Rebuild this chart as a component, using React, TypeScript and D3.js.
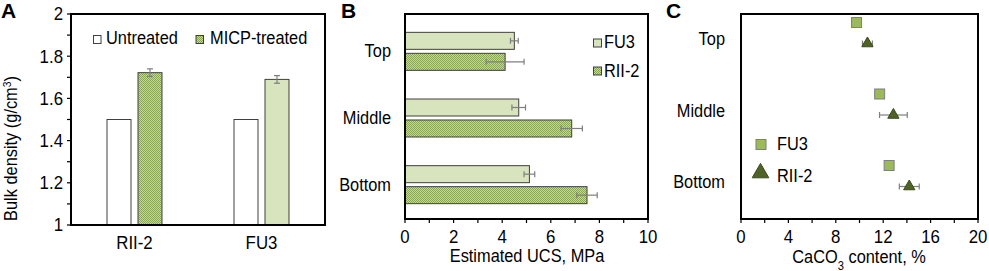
import React from "react";
import * as d3 from "d3";

// ---------- Panel A data ----------
const aCategories = ["RII-2", "FU3"];
const aSeries = ["Untreated", "MICP-treated"];
const aUntreated = [1.5, 1.5];
const aTreated = [1.722, 1.69];
const aTreatedErr = [0.018, 0.018];
const aYTicks = [1, 1.2, 1.4, 1.6, 1.8, 2];

// ---------- Panel B data ----------
const bCategories = ["Top", "Middle", "Bottom"];
const bSeries = ["FU3", "RII-2"];
const bFU3 = [4.5, 4.68, 5.12];
const bFU3Err = [0.16, 0.28, 0.22];
const bRII2 = [4.12, 6.86, 7.49];
const bRII2Err = [0.78, 0.44, 0.42];
const bXTicks = [0, 2, 4, 6, 8, 10];

// ---------- Panel C data ----------
const cCategories = ["Top", "Middle", "Bottom"];
const cFU3 = [9.75, 11.7, 12.5];
const cRII2 = [10.67, 12.86, 14.2];
const cRII2Err = [0.42, 1.17, 0.84];
const cXTicks = [0, 4, 8, 12, 16, 20];

const FONT = "'Liberation Sans', Arial, sans-serif";
const FU3_FILL = "#d7e4bd";
const BORDER = "#404040";
const ERR = "#7f7f7f";
const SQ_FILL = "#9bbb59";
const TRI_FILL = "#4f6228";
const LBL = 17.5; // label font size
const TCK = 18; // tick font size
const SX = 0.935; // horizontal squeeze seen in the reference

type TProps = {
  x: number; y: number; size?: number; anchor?: "start" | "middle" | "end";
  dy?: string; rotate?: number; sx?: number; bold?: boolean; children: React.ReactNode;
};
function T({ x, y, size = LBL, anchor = "start", dy, rotate = 0, sx = SX, bold, children }: TProps) {
  return (
    <text
      transform={`translate(${x},${y}) rotate(${rotate}) scale(${sx},1)`}
      textAnchor={anchor}
      dy={dy}
      fontFamily={FONT}
      fontSize={size}
      fontWeight={bold ? "bold" : "normal"}
      fill="#000"
    >
      {children}
    </text>
  );
}

function PanelA() {
  const left = 71, right = 325, top = 14, bottom = 225;
  const x = d3.scaleBand<string>().domain(aCategories).range([left, right]).paddingInner(0.567).paddingOuter(0.2835);
  const xs = d3.scaleBand<string>().domain(aSeries).range([0, x.bandwidth()]).paddingInner(0.226);
  const y = d3.scaleLinear().domain([1, 2]).range([bottom, top]);
  const minor = d3.range(1, 2.0001, 0.1);
  return (
    <g>
      <T x={1} y={18} size={21} bold sx={1}>A</T>
      {aCategories.map((c, i) => {
        const x0 = x(c)!;
        const ux = x0 + xs("Untreated")!;
        const tx = x0 + xs("MICP-treated")!;
        const bw = xs.bandwidth();
        const tfill = i === 0 ? "url(#checkA)" : FU3_FILL;
        const ex = tx + bw / 2;
        const eTop = y(aTreated[i] + aTreatedErr[i]);
        const eBot = y(aTreated[i] - aTreatedErr[i]);
        return (
          <g key={c}>
            <rect x={ux} y={y(aUntreated[i])} width={bw} height={y(1) - y(aUntreated[i])} fill="#fff" stroke={BORDER} strokeWidth={1} />
            <rect x={tx} y={y(aTreated[i])} width={bw} height={y(1) - y(aTreated[i])} fill={tfill} stroke={BORDER} strokeWidth={1} />
            <line x1={ex} x2={ex} y1={eTop} y2={eBot} stroke={ERR} strokeWidth={1.2} />
            <line x1={ex - 3} x2={ex + 3} y1={eTop} y2={eTop} stroke={ERR} strokeWidth={1.2} />
            <line x1={ex - 3} x2={ex + 3} y1={eBot} y2={eBot} stroke={ERR} strokeWidth={1.2} />
            <T x={x0 + x.bandwidth() / 2} y={249} size={TCK} anchor="middle">{c}</T>
          </g>
        );
      })}
      {minor.map((t, i) => (
        <line key={i} x1={left - 4} x2={left} y1={y(t)} y2={y(t)} stroke="#000" strokeWidth={1.2} />
      ))}
      {aYTicks.map((t) => (
        <T key={t} x={63} y={y(t)} dy="0.35em" size={TCK} anchor="end">{d3.format("~g")(t)}</T>
      ))}
      <rect x={left} y={top} width={right - left} height={bottom - top} fill="none" stroke="#000" strokeWidth={2} />
      <rect x={93.5} y={35.5} width={7.5} height={8} fill="#fff" stroke={BORDER} strokeWidth={1} />
      <T x={106} y={44}>Untreated</T>
      <rect x={196} y={35.5} width={7.5} height={8} fill="url(#checkA)" stroke={BORDER} strokeWidth={1} />
      <T x={210} y={44}>MICP-treated</T>
      <T x={17} y={148.5} rotate={-90} anchor="middle">
        Bulk density (g/cm<tspan baselineShift="super" fontSize={11}>3</tspan>)
      </T>
    </g>
  );
}

function PanelB() {
  const left = 405, right = 648, top = 14, bottom = 219;
  const x = d3.scaleLinear().domain([0, 10]).range([left, right]);
  const y = d3.scaleBand<string>().domain(bCategories).range([18, 218]).paddingInner(0.43).paddingOuter(0.215);
  const ys = d3.scaleBand<string>().domain(bSeries).range([0, y.bandwidth()]).paddingInner(0.19);
  const minor = d3.range(0, 10.001, 1);
  const bh = ys.bandwidth();
  const series = [
    { key: "FU3", vals: bFU3, err: bFU3Err, fill: FU3_FILL },
    { key: "RII-2", vals: bRII2, err: bRII2Err, fill: "url(#checkA)" },
  ];
  return (
    <g>
      <T x={341} y={18} size={21} bold sx={1}>B</T>
      {bCategories.map((c, i) => (
        <g key={c}>
          {series.map((s) => {
            const by = y(c)! + ys(s.key)!;
            const cy = by + bh / 2;
            const v = s.vals[i], e = s.err[i];
            return (
              <g key={s.key}>
                <rect x={x(0)} y={by} width={x(v) - x(0)} height={bh} fill={s.fill} stroke={BORDER} strokeWidth={1} />
                <line x1={x(v - e)} x2={x(v + e)} y1={cy} y2={cy} stroke={ERR} strokeWidth={1.2} />
                <line x1={x(v - e)} x2={x(v - e)} y1={cy - 3} y2={cy + 3} stroke={ERR} strokeWidth={1.2} />
                <line x1={x(v + e)} x2={x(v + e)} y1={cy - 3} y2={cy + 3} stroke={ERR} strokeWidth={1.2} />
              </g>
            );
          })}
          <T x={391} y={y(c)! + y.bandwidth() / 2} dy="0.35em" anchor="end">{c}</T>
        </g>
      ))}
      {minor.map((t, i) => (
        <line key={i} x1={x(t)} x2={x(t)} y1={bottom} y2={bottom + 4} stroke="#000" strokeWidth={1.2} />
      ))}
      {bXTicks.map((t) => (
        <T key={t} x={x(t)} y={243} size={TCK} anchor="middle">{t}</T>
      ))}
      <rect x={left} y={top} width={right - left} height={bottom - top} fill="none" stroke="#000" strokeWidth={2} />
      <rect x={593.5} y={39} width={8} height={8} fill={FU3_FILL} stroke={BORDER} strokeWidth={1} />
      <T x={604} y={48}>FU3</T>
      <rect x={593.5} y={67} width={8} height={8} fill="url(#checkA)" stroke={BORDER} strokeWidth={1} />
      <T x={604} y={77}>RII-2</T>
      <T x={(left + right) / 2 + 0.5} y={261.5} anchor="middle">Estimated UCS, MPa</T>
    </g>
  );
}

function PanelC() {
  const left = 741, right = 978, top = 14, bottom = 219;
  const x = d3.scaleLinear().domain([0, 20]).range([left, right]);
  const y = d3.scalePoint<string>().domain(cCategories).range([39, 182]);
  const fuOff = -16.5, riOff = 4.5;
  const minor = d3.range(0, 20.001, 2);
  const tri = d3.symbol(d3.symbolTriangle, 55)()!;
  const triBig = d3.symbol(d3.symbolTriangle, 120)()!;
  return (
    <g>
      <T x={666} y={18} size={21} bold sx={1}>C</T>
      {cCategories.map((c, i) => {
        const fy = y(c)! + fuOff;
        const ry = y(c)! + riOff;
        const e = cRII2Err[i];
        return (
          <g key={c}>
            <T x={725} y={y(c)!} dy="0.35em" anchor="end">{c}</T>
            <line x1={x(cRII2[i] - e)} x2={x(cRII2[i] + e)} y1={ry} y2={ry} stroke={ERR} strokeWidth={1.2} />
            <line x1={x(cRII2[i] - e)} x2={x(cRII2[i] - e)} y1={ry - 3} y2={ry + 3} stroke={ERR} strokeWidth={1.2} />
            <line x1={x(cRII2[i] + e)} x2={x(cRII2[i] + e)} y1={ry - 3} y2={ry + 3} stroke={ERR} strokeWidth={1.2} />
            <rect x={x(cFU3[i]) - 5} y={fy - 5} width={10} height={10} fill={SQ_FILL} stroke="#7f7f7f" strokeWidth={1} />
            <path d={tri} transform={`translate(${x(cRII2[i])},${ry})`} fill={TRI_FILL} stroke="#3a4a1c" strokeWidth={1} />
          </g>
        );
      })}
      {minor.map((t, i) => (
        <line key={i} x1={x(t)} x2={x(t)} y1={bottom} y2={bottom + 4} stroke="#000" strokeWidth={1.2} />
      ))}
      {cXTicks.map((t) => (
        <T key={t} x={x(t)} y={243} size={TCK} anchor="middle">{t}</T>
      ))}
      <rect x={left} y={top} width={right - left} height={bottom - top} fill="none" stroke="#000" strokeWidth={2} />
      <rect x={756} y={139.5} width={10} height={10} fill={SQ_FILL} stroke="#7f7f7f" strokeWidth={1} />
      <T x={777} y={150}>FU3</T>
      <path d={triBig} transform="translate(760.5,173)" fill={TRI_FILL} stroke="#3a4a1c" strokeWidth={1} />
      <T x={777} y={182}>RII-2</T>
      <T x={859} y={263} anchor="middle">
        CaCO<tspan baselineShift="sub" fontSize={12}>3</tspan> content, %
      </T>
    </g>
  );
}

export default function App() {
  return (
    <svg width={989} height={271} style={{ position: "absolute", left: 0, top: 0, background: "#fff" }}>
      <defs>
        <pattern id="checkA" width={2} height={2} patternUnits="userSpaceOnUse">
          <rect width={2} height={2} fill="#c3d89e" />
          <rect width={1} height={1} fill="#86a653" />
          <rect x={1} y={1} width={1} height={1} fill="#86a653" />
        </pattern>
      </defs>
      <rect width={989} height={271} fill="#fff" />
      <PanelA />
      <PanelB />
      <PanelC />
    </svg>
  );
}
